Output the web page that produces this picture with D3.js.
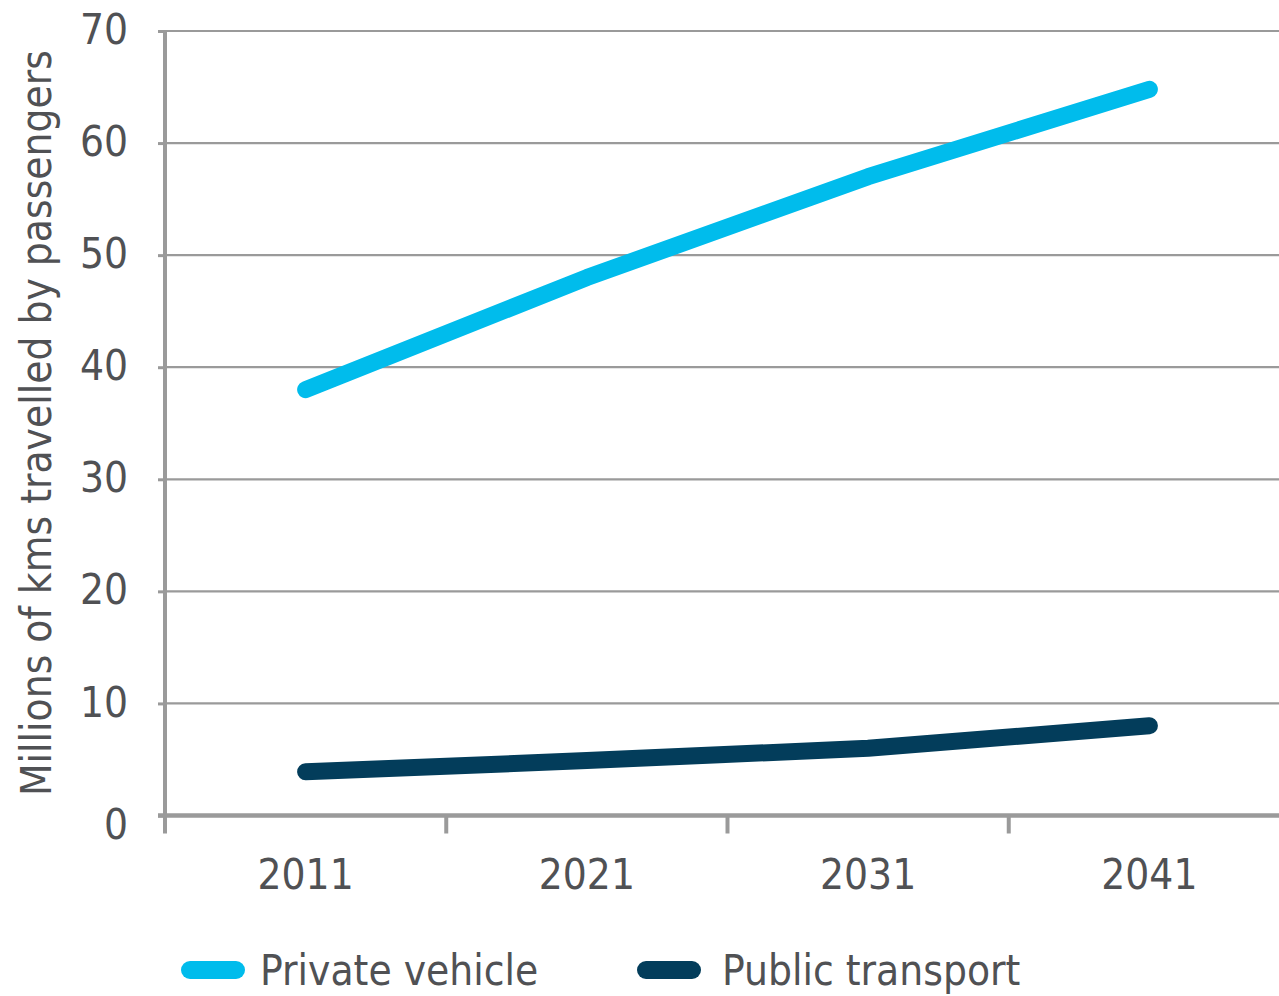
<!DOCTYPE html>
<html>
<head>
<meta charset="utf-8">
<script src="https://cdn.jsdelivr.net/npm/d3@7/dist/d3.min.js"></script>
<style>
  html, body { margin: 0; padding: 0; background: #fff; overflow: hidden; }
  text { font-family: "Liberation Sans Narrow", "DejaVu Sans Condensed", "Roboto", sans-serif; fill: #505154; }
</style>
</head>
<body>
<svg id="chart" width="1279" height="996"></svg>
<script>
// Passenger kilometres by mode, projected per decade
const years = ["2011", "2021", "2031", "2041"];
const privateVehicle = [38, 48, 57, 64.8];
const publicTransport = [3.9, 4.9, 6, 8];
const yTicks = [0, 10, 20, 30, 40, 50, 60, 70];
const seriesNames = ["Private vehicle", "Public transport"];
const seriesColors = ["#00bcec", "#033d5b"];

const svg = d3.select("#chart");
const plotLeft = 165, plotRight = 1290, plotTop = 31, plotBottom = 815.5;

const x = d3.scaleBand().domain(years).range([plotLeft, plotRight]).padding(0);
const y = d3.scaleLinear().domain([0, 70]).range([plotBottom, plotTop]);

// horizontal gridlines
svg.append("g")
  .selectAll("line")
  .data(yTicks.filter(d => d > 0))
  .join("line")
  .attr("x1", plotLeft).attr("x2", 1279)
  .attr("y1", d => y(d)).attr("y2", d => y(d))
  .attr("stroke", "#9a9a9a").attr("stroke-width", 2.2);

// y axis
const yAxis = svg.append("g")
  .attr("transform", `translate(${plotLeft},0)`)
  .call(d3.axisLeft(y).tickValues(yTicks).tickSize(7).tickPadding(30).tickFormat(d3.format("d")));
yAxis.select(".domain").attr("stroke", "#9a9a9a").attr("stroke-width", 4)
  .attr("d", `M0,${plotTop}V${plotBottom + 18}`);
yAxis.selectAll(".tick line").attr("stroke", "#9a9a9a").attr("stroke-width", 3);
yAxis.selectAll(".tick text").attr("font-size", 42).attr("fill", "#505154")
  .attr("dy", d => d === 0 ? "0.55em" : "0.3em");

// x axis with ticks at category boundaries
const xAxis = svg.append("g").attr("transform", `translate(0,${plotBottom})`);
xAxis.append("line")
  .attr("x1", plotLeft - 7).attr("x2", 1279)
  .attr("stroke", "#9a9a9a").attr("stroke-width", 4.5);
xAxis.selectAll("line.tk")
  .data(years.slice(1))
  .join("line").attr("class", "tk")
  .attr("x1", d => x(d)).attr("x2", d => x(d))
  .attr("y1", 0).attr("y2", 18)
  .attr("stroke", "#9a9a9a").attr("stroke-width", 4);
xAxis.selectAll("text")
  .data(years)
  .join("text")
  .attr("x", d => x(d) + x.bandwidth() / 2)
  .attr("y", 73)
  .attr("text-anchor", "middle")
  .attr("font-size", 42)
  .text(d => d);

// y axis title
svg.append("text")
  .attr("transform", "translate(51,423) rotate(-90)")
  .attr("text-anchor", "middle")
  .attr("font-size", 42)
  .text("Millions of kms travelled by passengers");

// series lines
const line = d3.line()
  .x((d, i) => x(years[i]) + x.bandwidth() / 2)
  .y(d => y(d));

[privateVehicle, publicTransport].forEach((vals, i) => {
  svg.append("path")
    .datum(vals)
    .attr("d", line)
    .attr("fill", "none")
    .attr("stroke", seriesColors[i])
    .attr("stroke-width", 17)
    .attr("stroke-linecap", "round")
    .attr("stroke-linejoin", "round");
});

// legend
const legendSwatchX = [190, 646];
const legendTextX = [260, 722];
const legend = svg.append("g");
seriesNames.forEach((name, i) => {
  legend.append("line")
    .attr("x1", legendSwatchX[i]).attr("x2", legendSwatchX[i] + 46)
    .attr("y1", 970).attr("y2", 970)
    .attr("stroke", seriesColors[i]).attr("stroke-width", 18)
    .attr("stroke-linecap", "round");
  legend.append("text")
    .attr("x", legendTextX[i]).attr("y", 970).attr("dy", "0.36em")
    .attr("font-size", 42)
    .text(name);
});
</script>
</body>
</html>
